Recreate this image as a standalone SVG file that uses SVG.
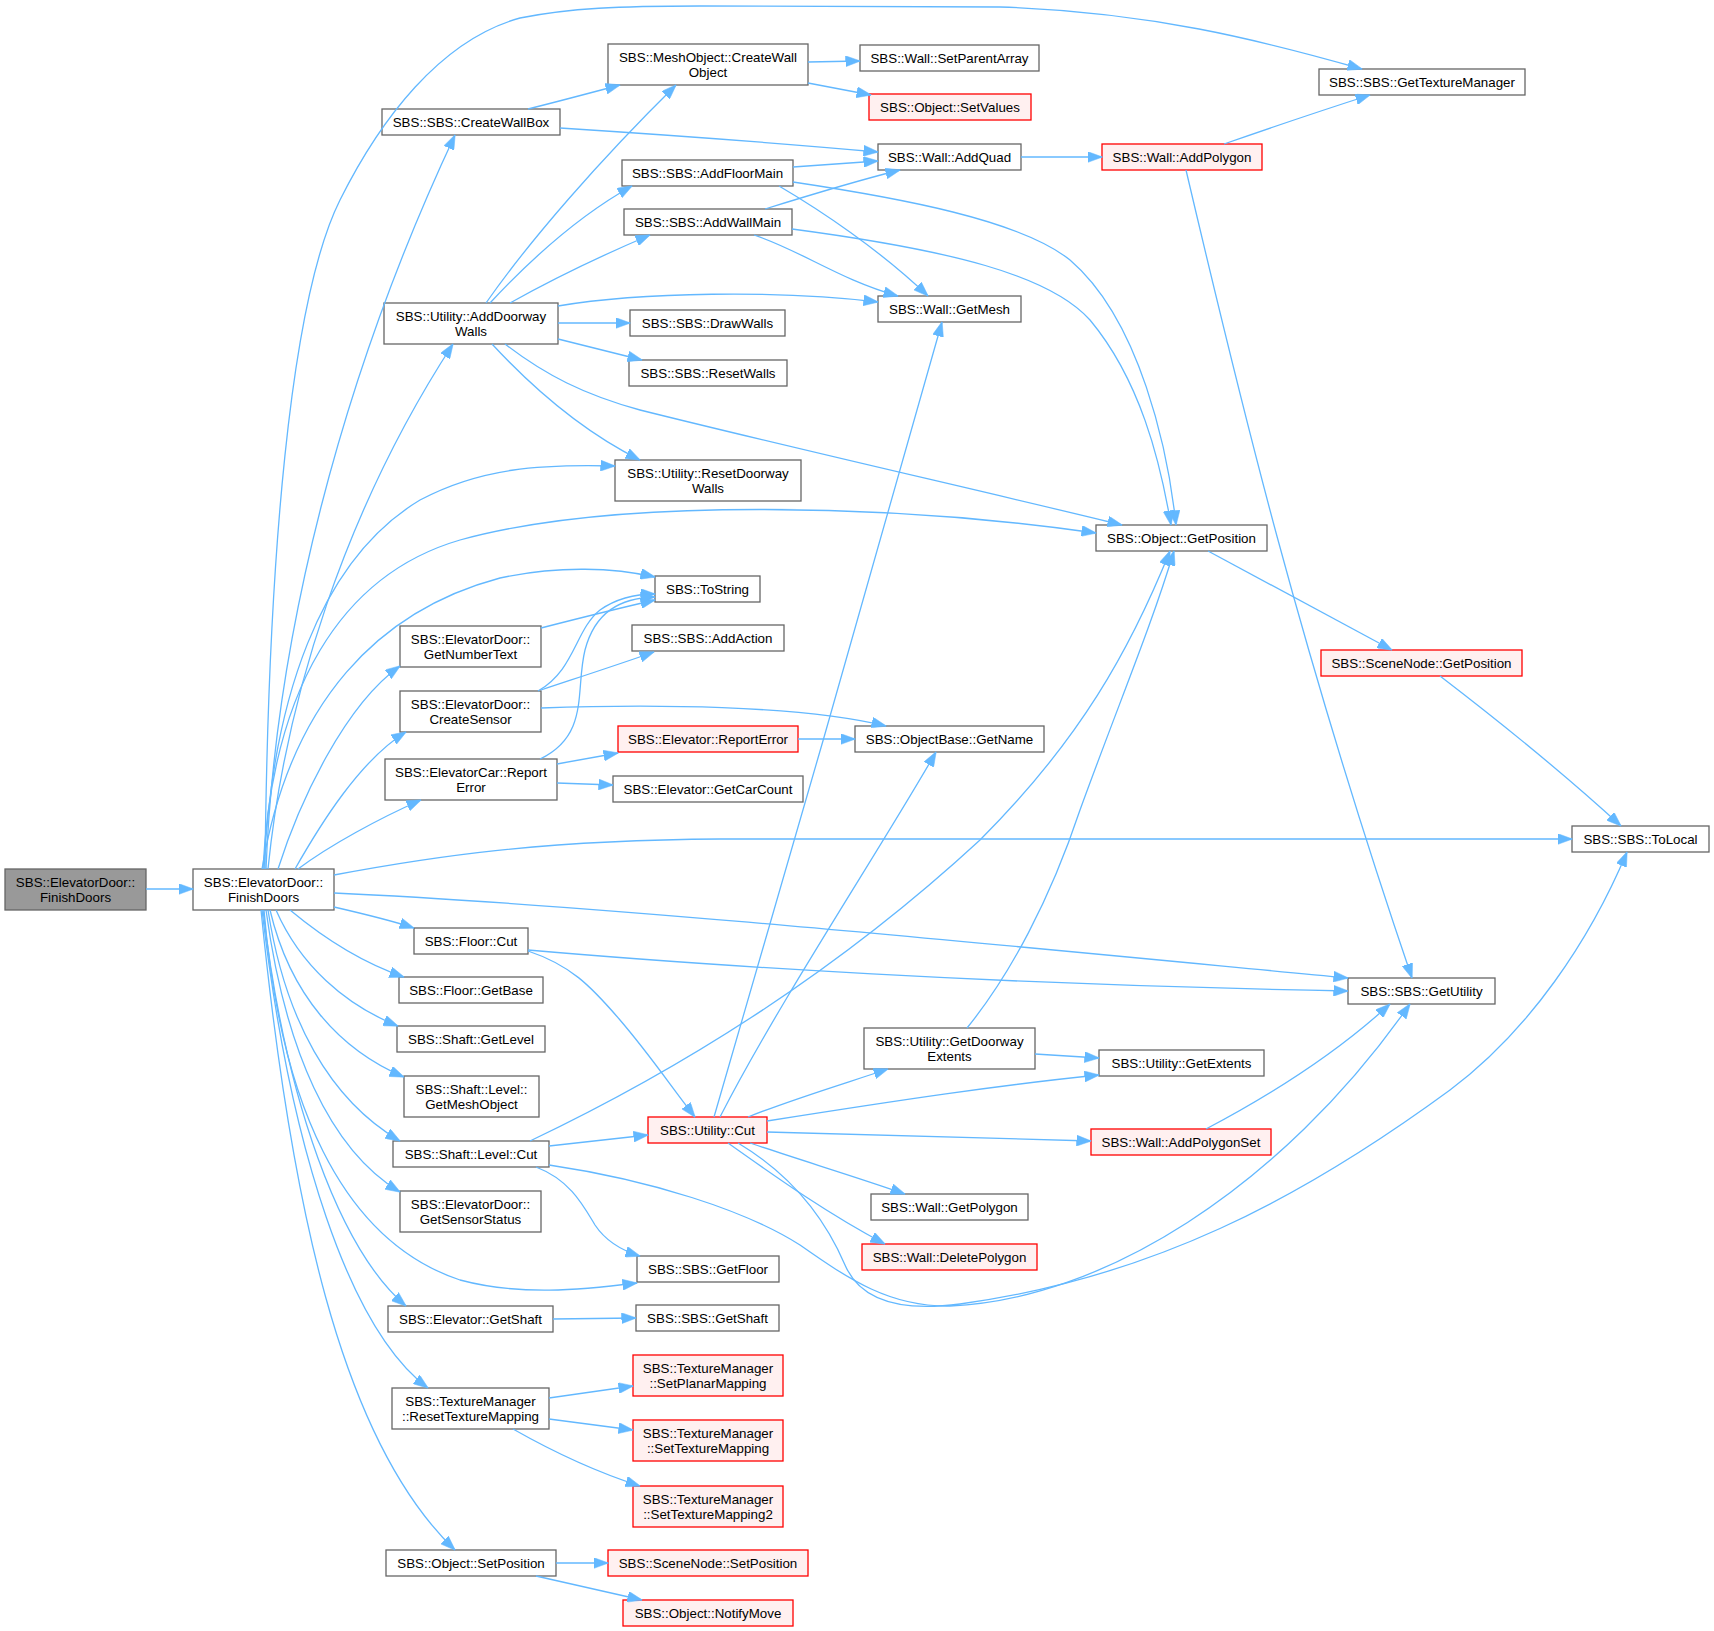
<svg xmlns="http://www.w3.org/2000/svg" width="1714" height="1631" viewBox="0 0 1714 1631">
<style>
.node rect{fill:#ffffff;stroke:#666666;stroke-width:1.3}
.node.red rect{fill:#fff0f0;stroke:#ff0000}
.node.cur rect{fill:#999999;stroke:#666666}
text{font-family:"Liberation Sans",Arial,Helvetica,sans-serif;font-size:13.33px;text-anchor:middle;fill:#000000}
#edges path{fill:none;stroke:#63b8ff;stroke-width:1.3;marker-end:url(#arr)}
</style>
<defs>
<marker id="arr" markerUnits="userSpaceOnUse" markerWidth="15" markerHeight="11" viewBox="0 0 15 11" refX="14.5" refY="5.5" orient="auto">
<path d="M0,0 L15,5.5 L0,11 z" fill="#63b8ff" stroke="#63b8ff" stroke-width="0.5"/>
</marker>
</defs>
<rect x="0" y="0" width="1714" height="1631" fill="#ffffff"/>
<g id="nodes">
<g id="n0" class="node cur"><rect x="5" y="869" width="141" height="41"/><text x="75.5" y="887">SBS::ElevatorDoor::</text><text x="75.5" y="902">FinishDoors</text></g>
<g id="n1" class="node"><rect x="193" y="869" width="141" height="41"/><text x="263.5" y="887">SBS::ElevatorDoor::</text><text x="263.5" y="902">FinishDoors</text></g>
<g id="n_createwallbox" class="node"><rect x="382" y="109" width="178" height="26"/><text x="471" y="127">SBS::SBS::CreateWallBox</text></g>
<g id="n_adddoorwaywalls" class="node"><rect x="384" y="303" width="174" height="41"/><text x="471" y="321">SBS::Utility::AddDoorway</text><text x="471" y="336">Walls</text></g>
<g id="n_getnumbertext" class="node"><rect x="400" y="626" width="141" height="41"/><text x="470.5" y="644">SBS::ElevatorDoor::</text><text x="470.5" y="659">GetNumberText</text></g>
<g id="n_createsensor" class="node"><rect x="400" y="691" width="141" height="41"/><text x="470.5" y="709">SBS::ElevatorDoor::</text><text x="470.5" y="724">CreateSensor</text></g>
<g id="n_carreporterror" class="node"><rect x="385" y="759" width="172" height="41"/><text x="471" y="777">SBS::ElevatorCar::Report</text><text x="471" y="792">Error</text></g>
<g id="n_floorcut" class="node"><rect x="414" y="928" width="114" height="26"/><text x="471" y="946">SBS::Floor::Cut</text></g>
<g id="n_floorgetbase" class="node"><rect x="399" y="977" width="144" height="26"/><text x="471" y="995">SBS::Floor::GetBase</text></g>
<g id="n_shaftgetlevel" class="node"><rect x="397" y="1026" width="148" height="26"/><text x="471" y="1044">SBS::Shaft::GetLevel</text></g>
<g id="n_getmeshobject" class="node"><rect x="404" y="1076" width="135" height="41"/><text x="471.5" y="1094">SBS::Shaft::Level::</text><text x="471.5" y="1109">GetMeshObject</text></g>
<g id="n_levelcut" class="node"><rect x="393" y="1141" width="156" height="26"/><text x="471" y="1159">SBS::Shaft::Level::Cut</text></g>
<g id="n_getsensorstatus" class="node"><rect x="400" y="1191" width="141" height="41"/><text x="470.5" y="1209">SBS::ElevatorDoor::</text><text x="470.5" y="1224">GetSensorStatus</text></g>
<g id="n_elevgetshaft" class="node"><rect x="388" y="1306" width="165" height="26"/><text x="470.5" y="1324">SBS::Elevator::GetShaft</text></g>
<g id="n_resettexmap" class="node"><rect x="392" y="1388" width="157" height="41"/><text x="470.5" y="1406">SBS::TextureManager</text><text x="470.5" y="1421">::ResetTextureMapping</text></g>
<g id="n_objsetpos" class="node"><rect x="386" y="1550" width="170" height="26"/><text x="471" y="1568">SBS::Object::SetPosition</text></g>
<g id="n_createwallobject" class="node"><rect x="608" y="44" width="200" height="41"/><text x="708" y="62">SBS::MeshObject::CreateWall</text><text x="708" y="77">Object</text></g>
<g id="n_addfloormain" class="node"><rect x="622" y="160" width="171" height="26"/><text x="707.5" y="178">SBS::SBS::AddFloorMain</text></g>
<g id="n_addwallmain" class="node"><rect x="624" y="209" width="168" height="26"/><text x="708" y="227">SBS::SBS::AddWallMain</text></g>
<g id="n_drawwalls" class="node"><rect x="630" y="310" width="155" height="26"/><text x="707.5" y="328">SBS::SBS::DrawWalls</text></g>
<g id="n_resetwalls" class="node"><rect x="629" y="360" width="158" height="26"/><text x="708" y="378">SBS::SBS::ResetWalls</text></g>
<g id="n_resetdoorwaywalls" class="node"><rect x="615" y="460" width="186" height="41"/><text x="708" y="478">SBS::Utility::ResetDoorway</text><text x="708" y="493">Walls</text></g>
<g id="n_tostring" class="node"><rect x="655" y="576" width="105" height="26"/><text x="707.5" y="594">SBS::ToString</text></g>
<g id="n_addaction" class="node"><rect x="632" y="625" width="152" height="26"/><text x="708" y="643">SBS::SBS::AddAction</text></g>
<g id="n_elevreporterror" class="node red"><rect x="618" y="726" width="180" height="26"/><text x="708" y="744">SBS::Elevator::ReportError</text></g>
<g id="n_getcarcount" class="node"><rect x="613" y="776" width="190" height="26"/><text x="708" y="794">SBS::Elevator::GetCarCount</text></g>
<g id="n_utilitycut" class="node red"><rect x="648" y="1117" width="119" height="26"/><text x="707.5" y="1135">SBS::Utility::Cut</text></g>
<g id="n_getfloor" class="node"><rect x="637" y="1256" width="142" height="26"/><text x="708" y="1274">SBS::SBS::GetFloor</text></g>
<g id="n_getshaft" class="node"><rect x="636" y="1305" width="143" height="26"/><text x="707.5" y="1323">SBS::SBS::GetShaft</text></g>
<g id="n_setplanar" class="node red"><rect x="633" y="1355" width="150" height="41"/><text x="708" y="1373">SBS::TextureManager</text><text x="708" y="1388">::SetPlanarMapping</text></g>
<g id="n_settexmap" class="node red"><rect x="633" y="1420" width="150" height="41"/><text x="708" y="1438">SBS::TextureManager</text><text x="708" y="1453">::SetTextureMapping</text></g>
<g id="n_settexmap2" class="node red"><rect x="633" y="1486" width="150" height="41"/><text x="708" y="1504">SBS::TextureManager</text><text x="708" y="1519">::SetTextureMapping2</text></g>
<g id="n_scenesetpos" class="node red"><rect x="608" y="1550" width="200" height="26"/><text x="708" y="1568">SBS::SceneNode::SetPosition</text></g>
<g id="n_notifymove" class="node red"><rect x="623" y="1600" width="170" height="26"/><text x="708" y="1618">SBS::Object::NotifyMove</text></g>
<g id="n_setparentarray" class="node"><rect x="860" y="45" width="179" height="26"/><text x="949.5" y="63">SBS::Wall::SetParentArray</text></g>
<g id="n_setvalues" class="node red"><rect x="869" y="94" width="162" height="26"/><text x="950" y="112">SBS::Object::SetValues</text></g>
<g id="n_addquad" class="node"><rect x="878" y="144" width="143" height="26"/><text x="949.5" y="162">SBS::Wall::AddQuad</text></g>
<g id="n_getmesh" class="node"><rect x="878" y="296" width="143" height="26"/><text x="949.5" y="314">SBS::Wall::GetMesh</text></g>
<g id="n_getname" class="node"><rect x="855" y="726" width="189" height="26"/><text x="949.5" y="744">SBS::ObjectBase::GetName</text></g>
<g id="n_getdoorwayextents" class="node"><rect x="864" y="1028" width="171" height="41"/><text x="949.5" y="1046">SBS::Utility::GetDoorway</text><text x="949.5" y="1061">Extents</text></g>
<g id="n_getpolygon" class="node"><rect x="871" y="1194" width="157" height="26"/><text x="949.5" y="1212">SBS::Wall::GetPolygon</text></g>
<g id="n_deletepolygon" class="node red"><rect x="862" y="1244" width="175" height="26"/><text x="949.5" y="1262">SBS::Wall::DeletePolygon</text></g>
<g id="n_addpolygon" class="node red"><rect x="1102" y="144" width="160" height="26"/><text x="1182" y="162">SBS::Wall::AddPolygon</text></g>
<g id="n_getposition" class="node"><rect x="1096" y="525" width="171" height="26"/><text x="1181.5" y="543">SBS::Object::GetPosition</text></g>
<g id="n_getextents" class="node"><rect x="1099" y="1050" width="165" height="26"/><text x="1181.5" y="1068">SBS::Utility::GetExtents</text></g>
<g id="n_addpolygonset" class="node red"><rect x="1091" y="1129" width="180" height="26"/><text x="1181" y="1147">SBS::Wall::AddPolygonSet</text></g>
<g id="n_gettexturemanager" class="node"><rect x="1319" y="69" width="206" height="26"/><text x="1422" y="87">SBS::SBS::GetTextureManager</text></g>
<g id="n_scenegetpos" class="node red"><rect x="1321" y="650" width="201" height="26"/><text x="1421.5" y="668">SBS::SceneNode::GetPosition</text></g>
<g id="n_getutility" class="node"><rect x="1348" y="978" width="147" height="26"/><text x="1421.5" y="996">SBS::SBS::GetUtility</text></g>
<g id="n_tolocal" class="node"><rect x="1572" y="826" width="137" height="26"/><text x="1640.5" y="844">SBS::SBS::ToLocal</text></g>
</g>
<g id="edges">
<path d="M146,889 L193,889"/>
<path d="M265,869 C 268,560 290,300 340,200 C 380,120 440,40 520,18 C 570,8 620,6 700,6 L1000,7 C 1150,12 1260,40 1362,69"/>
<path d="M266,869 C 275,640 340,380 455,135"/>
<path d="M268,869 C 285,700 345,510 453,344"/>
<path d="M264,869 C 272,700 320,560 420,500 C 480,468 540,464 615,466"/>
<path d="M263,869 C 272,690 340,575 460,540 C 620,496 900,505 1096,533"/>
<path d="M262,869 C 290,700 380,610 500,578 C 560,565 615,568 655,577"/>
<path d="M278,869 C 300,800 345,705 400,666"/>
<path d="M295,869 C 320,825 360,760 406,732"/>
<path d="M298,869 C 330,845 380,818 421,800"/>
<path d="M334,875 C 430,857 540,840 720,839 L1572,839"/>
<path d="M334,893 C 600,905 1000,945 1348,978"/>
<path d="M334,907 C 360,913 390,920 414,928"/>
<path d="M290,910 C 320,935 360,962 404,977"/>
<path d="M276,910 C 300,965 345,1005 398,1026"/>
<path d="M270,910 C 290,995 340,1050 404,1077"/>
<path d="M268,910 C 285,1020 330,1100 400,1141"/>
<path d="M266,910 C 285,1050 330,1150 400,1192"/>
<path d="M264,910 C 280,1100 340,1240 460,1280 C 520,1296 580,1290 637,1283"/>
<path d="M263,910 C 285,1100 340,1250 406,1306"/>
<path d="M262,910 C 290,1150 350,1330 428,1388"/>
<path d="M261,910 C 290,1200 340,1440 455,1550"/>
<path d="M528,109 C 560,101 590,93 620,85"/>
<path d="M560,128 C 700,137 800,145 878,152"/>
<path d="M486,303 C 530,240 600,160 676,85"/>
<path d="M490,303 C 530,260 580,215 632,186"/>
<path d="M510,303 C 560,275 610,252 650,235"/>
<path d="M558,306 C 640,292 780,290 878,302"/>
<path d="M558,323 L630,323"/>
<path d="M558,339 L642,360"/>
<path d="M492,344 C 530,385 580,430 640,460"/>
<path d="M505,344 C 545,375 585,395 640,410 C 800,450 1000,495 1122,525"/>
<path d="M808,62 L860,61"/>
<path d="M808,83 L871,95"/>
<path d="M793,167 L878,161"/>
<path d="M779,186 C 820,210 880,250 928,296"/>
<path d="M793,182 C 900,198 1020,220 1070,260 C 1140,320 1168,450 1176,525"/>
<path d="M765,209 C 810,195 860,180 900,170"/>
<path d="M754,235 C 800,250 840,280 898,296"/>
<path d="M792,229 C 950,250 1050,275 1090,320 C 1140,380 1160,460 1171,525"/>
<path d="M1021,157 L1102,157"/>
<path d="M1224,144 C 1270,128 1320,111 1370,95"/>
<path d="M1186,170 C 1240,400 1300,650 1412,978"/>
<path d="M1208,551 L1392,650"/>
<path d="M1440,676 C 1500,722 1560,770 1621,826"/>
<path d="M541,628 C 580,618 620,608 655,600"/>
<path d="M538,691 C 575,670 575,630 600,610 C 620,596 640,594 655,594"/>
<path d="M541,690 C 580,677 620,664 654,652"/>
<path d="M541,708 C 650,704 800,705 886,726"/>
<path d="M540,759 C 590,735 575,690 585,650 C 595,612 620,598 655,597"/>
<path d="M557,764 L618,753"/>
<path d="M557,783 L613,785"/>
<path d="M798,739 L855,739"/>
<path d="M528,950 C 700,965 1000,985 1348,991"/>
<path d="M528,951 C 570,965 590,985 620,1020 C 650,1055 670,1085 695,1117"/>
<path d="M530,1141 C 700,1060 850,960 980,840 C 1080,740 1130,650 1170,551"/>
<path d="M549,1146 L648,1135"/>
<path d="M536,1167 C 570,1180 583,1205 595,1225 C 605,1240 620,1250 640,1256"/>
<path d="M549,1165 C 650,1180 745,1210 800,1245 C 850,1280 890,1307 950,1306 C 1100,1300 1280,1190 1410,1004"/>
<path d="M714,1117 C 770,930 900,470 942,322"/>
<path d="M720,1117 C 780,1000 880,850 936,752"/>
<path d="M748,1117 C 790,1100 840,1085 888,1069"/>
<path d="M767,1121 C 900,1100 1000,1085 1099,1075"/>
<path d="M767,1132 L1091,1141"/>
<path d="M750,1143 C 800,1160 860,1178 905,1194"/>
<path d="M728,1143 C 780,1180 830,1215 885,1244"/>
<path d="M738,1143 C 800,1180 830,1230 845,1265 C 860,1300 900,1312 960,1304 C 1150,1278 1300,1200 1450,1090 C 1530,1030 1590,940 1627,852"/>
<path d="M1035,1054 L1099,1058"/>
<path d="M967,1028 C 1010,975 1050,900 1080,810 C 1120,700 1150,630 1174,551"/>
<path d="M1206,1129 C 1280,1090 1340,1050 1390,1004"/>
<path d="M553,1319 L636,1318"/>
<path d="M549,1398 L633,1386"/>
<path d="M549,1419 L633,1430"/>
<path d="M513,1429 C 550,1450 590,1470 640,1486"/>
<path d="M556,1563 L608,1563"/>
<path d="M536,1576 L642,1600"/>
</g>
</svg>
